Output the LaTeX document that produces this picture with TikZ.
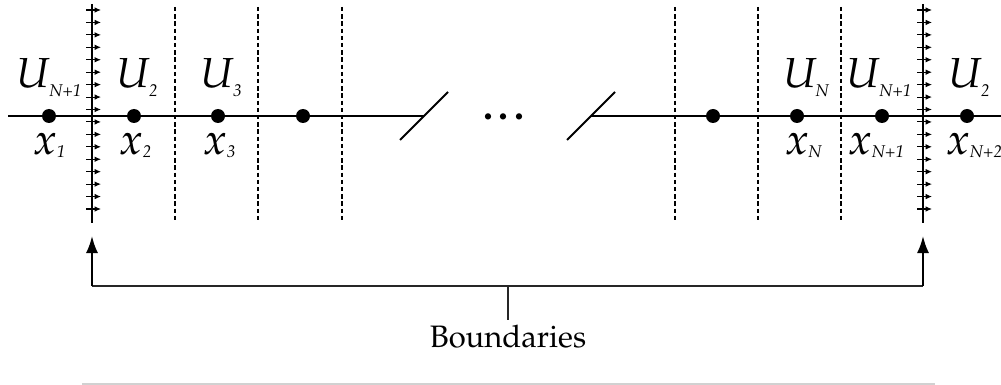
\documentclass[tikz,border=0pt]{standalone}
\usepackage[T1]{fontenc}
\usepackage{mathpazo}
\usetikzlibrary{arrows.meta}
\newcommand{\Ulab}[1]{{\fontsize{21}{21}\selectfont\itshape U}\raisebox{-4.5pt}{\fontsize{8.5}{8.5}\selectfont\itshape #1}}
\newcommand{\Xlab}[1]{{\fontsize{22}{22}\selectfont\itshape x}\raisebox{-1.2pt}{\fontsize{8.5}{8.5}\selectfont\itshape #1}}
\tikzset{
  axisline/.style={line width=1pt, black},
  cellline/.style={line width=0.7pt, black, dash pattern=on 2.2pt off 1.4pt},
  bndline/.style={line width=1pt, black},
  tickarrow/.style={line width=0.55pt, black, -{Latex[length=3.2pt,width=2.8pt]}},
  gridpt/.style={circle, fill=black, inner sep=0pt, minimum size=7pt},
  ulabel/.style={anchor=base, inner sep=0pt},
  xlabel/.style={anchor=base, inner sep=0pt},
  bracket/.style={line width=1pt, black!85},
  uparrow/.style={line width=1pt, black, -{Latex[length=8.5pt,width=6pt]}},
}
\begin{document}
\begin{tikzpicture}[x=0.5pt,y=-0.5pt]
\useasboundingbox (0,0) rectangle (1001,385);
% axis
\coordinate (axL) at (8,116);
\coordinate (brkL) at (424,116);
\coordinate (brkR) at (591,116);
\coordinate (axR) at (1001,116);
\draw[axisline] (axL) -- (brkL);
\draw[axisline] (brkR) -- (axR);
\coordinate (s1a) at (400,140); \coordinate (s1b) at (448,92);
\coordinate (s2a) at (567,140); \coordinate (s2b) at (615,92);
\draw[axisline] (s1a) -- (s1b);
\draw[axisline] (s2a) -- (s2b);
\node[inner sep=0pt] (dots) at (507,117) {\fontsize{20}{20}\selectfont\textbf{\ldots}};
% dashed cell boundaries
\foreach \xx/\nm in {175/d1,258/d2,342/d3,675/d4,758/d5,841/d6}{
  \coordinate (\nm t) at (\xx,7);
  \coordinate (\nm b) at (\xx,222);
  \draw[cellline] (\nm t) -- (\nm b);
}
% periodic boundaries
\foreach \xx/\nm in {92/bL,923/bR}{
  \coordinate (\nm t) at (\xx,4);
  \coordinate (\nm b) at (\xx,223);
  \draw[bndline] (\nm t) -- (\nm b);
  \foreach \k in {0,...,16}{
    \pgfmathsetmacro{\yy}{10+12.4375*\k}
    \coordinate (\nm a\k) at (\xx-6,\yy);
    \coordinate (\nm e\k) at (\xx+9,\yy);
    \draw[tickarrow] (\nm a\k) -- (\nm e\k);
  }
}
% grid points
\foreach \xx/\nm in {49/p1,134/p2,218/p3,303/p4,713/p5,797/p6,882/p7,967/p8}{
  \node[gridpt] (\nm) at (\xx,116) {};
}
% labels
\node[ulabel] (u1) at (49,88) {\Ulab{N+1}};
\node[ulabel] (u2) at (137,88) {\Ulab{2}};
\node[ulabel] (u3) at (221,88) {\Ulab{3}};
\node[ulabel] (u6) at (806,88) {\Ulab{N}};
\node[ulabel] (u7) at (879,88) {\Ulab{N+1}};
\node[ulabel] (u8) at (969,88) {\Ulab{2}};
\node[xlabel] (x1) at (50,155) {\Xlab{1}};
\node[xlabel] (x2) at (136,155) {\Xlab{2}};
\node[xlabel] (x3) at (220,155) {\Xlab{3}};
\node[xlabel] (x6) at (804,155) {\Xlab{N}};
\node[xlabel] (x7) at (877,155) {\Xlab{N+1}};
\node[xlabel] (x8) at (975,155) {\Xlab{N+2}};
% bracket
\coordinate (cL) at (92,286);
\coordinate (cR) at (923,286);
\coordinate (tipL) at (92,236);
\coordinate (tipR) at (923,236);
\coordinate (cM) at (508,286);
\coordinate (stemB) at (508,320);
\draw[bracket] (cL) -- (cR);
\draw[uparrow] (cL) -- (tipL);
\draw[uparrow] (cR) -- (tipR);
\draw[bracket] (cM) -- (stemB);
\node[anchor=base, inner sep=0pt] (blabel) at (508,347) {\fontsize{15.5}{15.5}\selectfont Boundaries};
% faint rule at bottom
\coordinate (gL) at (82,384);
\coordinate (gR) at (935,384);
\draw[line width=1.2pt, black!18] (gL) -- (gR);
\end{tikzpicture}
\end{document}
